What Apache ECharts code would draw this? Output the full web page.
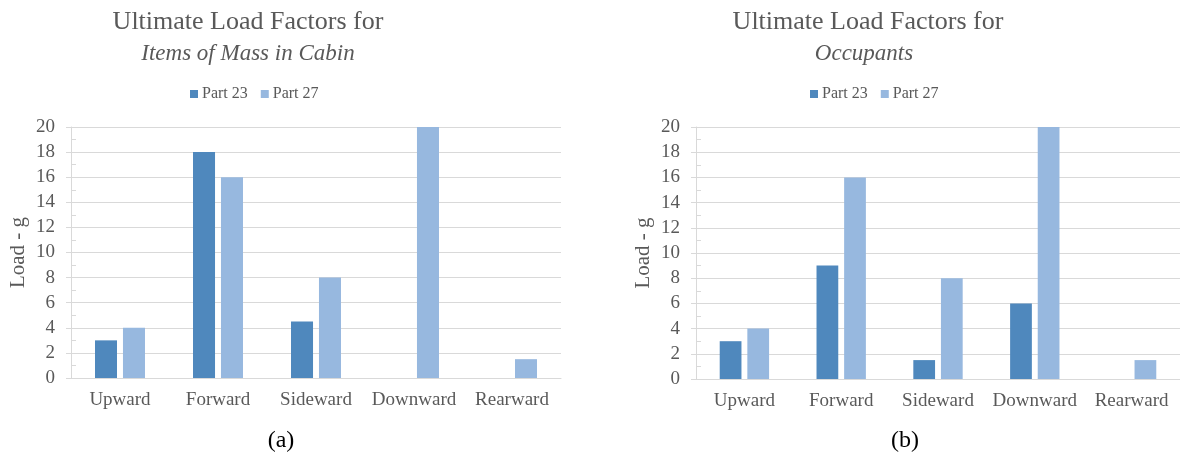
<!DOCTYPE html>
<html>
<head>
<meta charset="utf-8">
<script src="https://cdn.jsdelivr.net/npm/echarts@6/dist/echarts.min.js"></script>
<style>
html,body{margin:0;padding:0;background:#fff;}
#c{width:1180px;height:457px;}
</style>
</head>
<body>
<div id="c"></div>
<script>
const categories = ['Upward', 'Forward', 'Sideward', 'Downward', 'Rearward'];
const seriesNames = ['Part 23', 'Part 27'];
const massPart23 = [3, 18, 4.5, null, null];
const massPart27 = [4, 16, 8, 20, 1.5];
const occPart23 = [3, 9, 1.5, 6, null];
const occPart27 = [4, 16, 8, 20, 1.5];
const yMin = 0, yMax = 20, yStep = 2;
const titleLine1 = 'Ultimate Load Factors for';
const subtitleA = 'Items of Mass in Cabin';
const subtitleB = 'Occupants';
const captionA = '(a)';
const captionB = '(b)';
const yName = 'Load - g';

const FONT = '"Liberation Serif", "Times New Roman", serif';
const GREY = '#595959';
const LINE = '#d9d9d9';
const C1 = '#4f88bd';
const C2 = '#97b8df';

const chart = echarts.init(document.getElementById('c'), null, {renderer: 'canvas'});

function mkX(gi) {
  return {
    type: 'category', gridIndex: gi, data: categories,
    axisLine: {show: true, lineStyle: {color: LINE, width: 1}},
    axisTick: {show: false},
    axisLabel: {color: GREY, fontFamily: FONT, fontSize: 19, margin: 13, interval: 0}
  };
}
function mkY(gi) {
  return [{
    type: 'value', gridIndex: gi, min: yMin, max: yMax, interval: yStep,
    name: yName, nameLocation: 'middle', nameGap: 42,
    nameTextStyle: {color: GREY, fontFamily: FONT, fontSize: 21},
    axisLine: {show: true, lineStyle: {color: LINE}},
    axisTick: {show: true, inside: false, length: 5, lineStyle: {color: LINE}},
    axisLabel: {color: GREY, fontFamily: FONT, fontSize: 19, margin: 16},
    splitLine: {show: true, lineStyle: {color: LINE}}
  }, {
    type: 'value', gridIndex: gi, min: yMin, max: yMax, interval: yStep,
    position: 'left',
    axisLine: {show: false},
    axisTick: {show: false, inside: true},
    axisLabel: {show: false},
    splitLine: {show: false},
    minorTick: {show: true, splitNumber: 2, length: 5, lineStyle: {color: LINE}}
  }];
}
function mkBar(name, data, gi, color) {
  return {
    type: 'bar', name: name, data: data,
    xAxisIndex: gi, yAxisIndex: gi * 2,
    barCategoryGap: '49%', barGap: '27%',
    itemStyle: {color: color},
    emphasis: {disabled: true}
  };
}
function mkLegend(left) {
  return {
    data: seriesNames, left: left, top: 86, orient: 'horizontal', padding: 0,
    icon: 'rect', itemWidth: 8, itemHeight: 8, itemGap: 13,
    textStyle: {color: GREY, fontFamily: FONT, fontSize: 16, padding: [0, 0, 0, -1]},
    selectedMode: false
  };
}
function mkText(x, y, text, size, style, color) {
  return {
    type: 'text', x: x, y: y, silent: true,
    style: {text: text, fill: color || GREY, font: (style || 'normal') + ' ' + size + 'px ' + FONT,
            align: 'center', verticalAlign: 'middle'}
  };
}

const y0 = mkY(0), y1 = mkY(1);
chart.setOption({
  animation: false,
  grid: [
    {left: 71, top: 127, width: 490, height: 251},
    {left: 696, top: 127, width: 490, height: 252}
  ],
  xAxis: [mkX(0), mkX(1)],
  yAxis: [y0[0], y0[1], y1[0], y1[1]],
  legend: [mkLegend(190), mkLegend(810)],
  series: [
    mkBar(seriesNames[0], massPart23, 0, C1),
    mkBar(seriesNames[1], massPart27, 0, C2),
    mkBar(seriesNames[0], occPart23, 1, C1),
    mkBar(seriesNames[1], occPart27, 1, C2)
  ],
  graphic: [
    mkText(248, 22, titleLine1, 26),
    mkText(248, 54, subtitleA, 23, 'italic'),
    mkText(868, 22, titleLine1, 26),
    mkText(864, 54, subtitleB, 23, 'italic'),
    mkText(281, 441, captionA, 24, 'normal', '#000'),
    mkText(905, 441, captionB, 24, 'normal', '#000')
  ]
});
</script>
</body>
</html>
